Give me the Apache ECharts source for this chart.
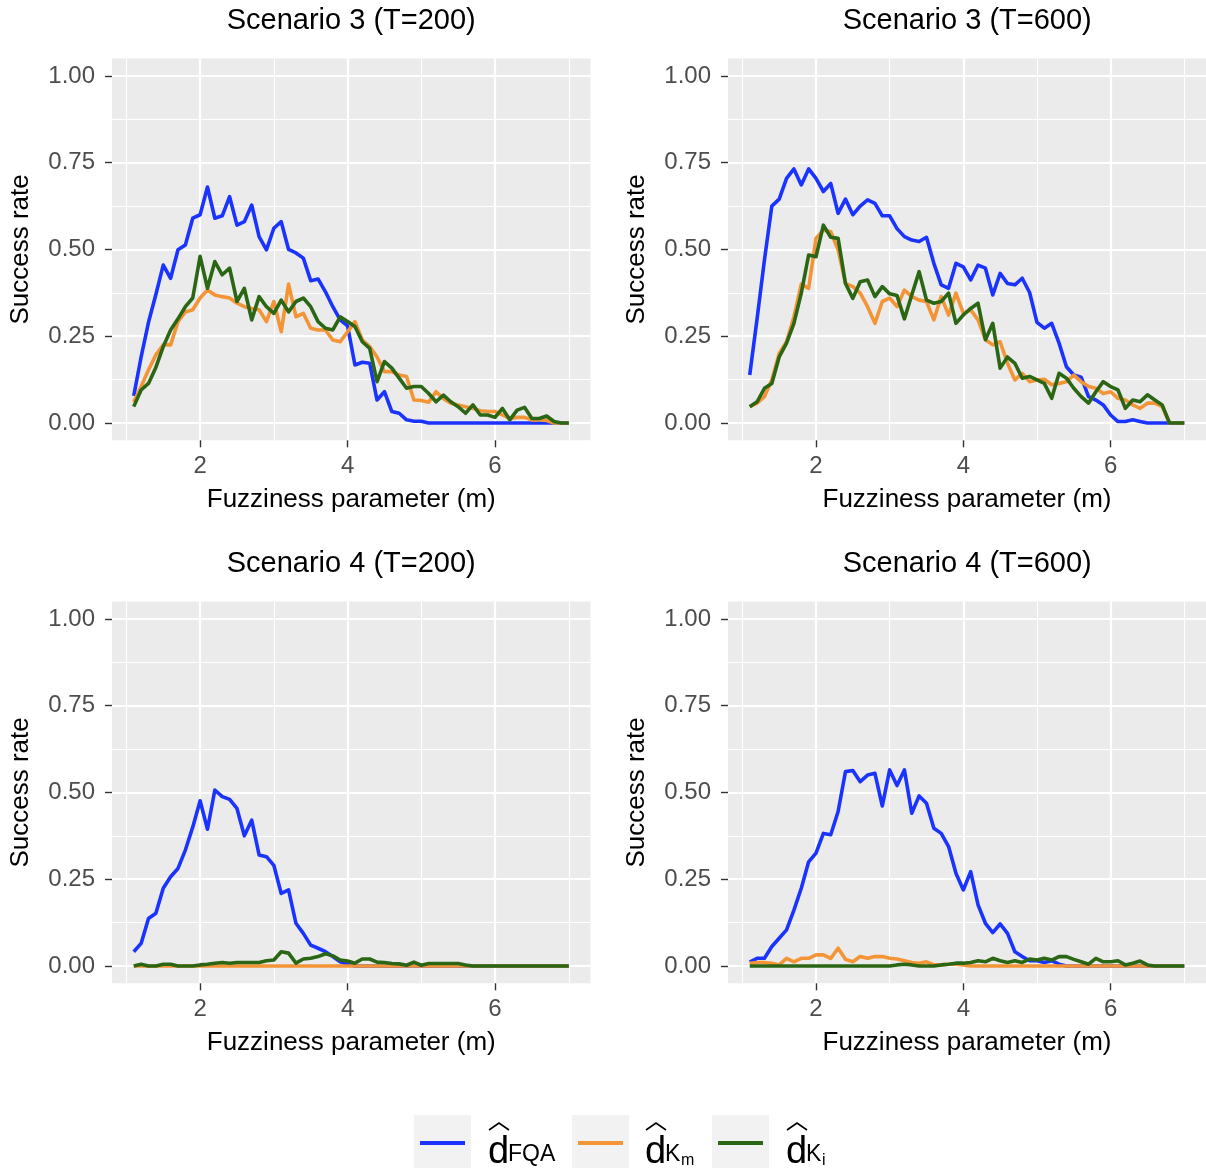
<!DOCTYPE html>
<html>
<head>
<meta charset="utf-8">
<script src="https://cdn.jsdelivr.net/npm/echarts@6/dist/echarts.min.js"></script>
<style>
  html, body { margin: 0; padding: 0; background: #fff; }
  #chart { width: 1206px; height: 1168px; }
</style>
</head>
<body>
<div id="chart"></div>
<script>
// fuzziness parameter m (x values)
const mValues = [1.1, 1.2, 1.3, 1.4, 1.5, 1.6, 1.7, 1.8, 1.9, 2.0,
  2.1, 2.2, 2.3, 2.4, 2.5, 2.6, 2.7, 2.8, 2.9, 3.0,
  3.1, 3.2, 3.3, 3.4, 3.5, 3.6, 3.7, 3.8, 3.9, 4.0,
  4.1, 4.2, 4.3, 4.4, 4.5, 4.6, 4.7, 4.8, 4.9, 5.0,
  5.1, 5.2, 5.3, 5.4, 5.5, 5.6, 5.7, 5.8, 5.9, 6.0,
  6.1, 6.2, 6.3, 6.4, 6.5, 6.6, 6.7, 6.8, 6.9, 7.0];

const xTicks = [2, 4, 6];
const xMinor = [1, 3, 5, 7];
const yTicks = [0, 0.25, 0.5, 0.75, 1];
const yMinor = [0.125, 0.375, 0.625, 0.875];

const panelTitles = ['Scenario 3 (T=200)', 'Scenario 3 (T=600)', 'Scenario 4 (T=200)', 'Scenario 4 (T=600)'];

// Scenario 3, T=200
const s3t200Fqa = [0.078, 0.19, 0.29, 0.37, 0.455, 0.417, 0.499, 0.513, 0.59, 0.60,
  0.68, 0.59, 0.597, 0.652, 0.57, 0.58, 0.628, 0.537, 0.499, 0.561,
  0.58, 0.50, 0.49, 0.475, 0.41, 0.415, 0.378, 0.335, 0.297, 0.28,
  0.167, 0.175, 0.172, 0.066, 0.09, 0.033, 0.028, 0.009, 0.005, 0.005,
  0, 0, 0, 0, 0, 0, 0, 0, 0, 0,
  0, 0, 0, 0, 0, 0, 0, 0, 0, 0];
const s3t200Km = [0.06, 0.105, 0.153, 0.196, 0.225, 0.225, 0.292, 0.32, 0.326, 0.36,
  0.383, 0.369, 0.364, 0.36, 0.345, 0.335, 0.33, 0.326, 0.292, 0.35,
  0.263, 0.40, 0.306, 0.316, 0.273, 0.268, 0.268, 0.239, 0.234, 0.263,
  0.292, 0.239, 0.22, 0.19, 0.148, 0.148, 0.138, 0.134, 0.066, 0.065,
  0.06, 0.09, 0.07, 0.057, 0.052, 0.047, 0.042, 0.035, 0.033, 0.033,
  0.023, 0.013, 0.016, 0.016, 0.009, 0.009, 0.007, 0, 0, 0];
const s3t200Ki = [0.047, 0.095, 0.114, 0.16, 0.22, 0.268, 0.30, 0.335, 0.36, 0.48,
  0.388, 0.465, 0.427, 0.446, 0.35, 0.388, 0.297, 0.364, 0.335, 0.316,
  0.354, 0.32, 0.35, 0.36, 0.335, 0.292, 0.273, 0.268, 0.306, 0.292,
  0.278, 0.234, 0.215, 0.119, 0.177, 0.158, 0.129, 0.10, 0.105, 0.105,
  0.085, 0.061, 0.08, 0.061, 0.047, 0.028, 0.052, 0.023, 0.023, 0.016,
  0.042, 0.009, 0.037, 0.045, 0.013, 0.013, 0.02, 0.004, 0, 0];

// Scenario 3, T=600
const s3t600Fqa = [0.138, 0.30, 0.47, 0.625, 0.645, 0.705, 0.732, 0.686, 0.732, 0.705,
  0.667, 0.69, 0.604, 0.645, 0.60, 0.625, 0.643, 0.633, 0.597, 0.597,
  0.56, 0.537, 0.527, 0.523, 0.535, 0.46, 0.398, 0.388, 0.46, 0.45,
  0.412, 0.455, 0.446, 0.369, 0.431, 0.402, 0.398, 0.417, 0.376, 0.29,
  0.273, 0.287, 0.23, 0.162, 0.138, 0.132, 0.076, 0.066, 0.052, 0.023,
  0.004, 0.004, 0.009, 0.004, 0, 0, 0, 0, 0, 0];
const s3t600Km = [0.047, 0.057, 0.076, 0.124, 0.20, 0.234, 0.306, 0.40, 0.388, 0.532,
  0.556, 0.551, 0.499, 0.402, 0.393, 0.374, 0.335, 0.287, 0.35, 0.36,
  0.335, 0.383, 0.364, 0.354, 0.35, 0.297, 0.364, 0.311, 0.374, 0.316,
  0.326, 0.297, 0.24, 0.225, 0.234, 0.172, 0.124, 0.143, 0.119, 0.124,
  0.126, 0.11, 0.114, 0.119, 0.138, 0.119, 0.105, 0.10, 0.085, 0.09,
  0.071, 0.066, 0.052, 0.042, 0.057, 0.057, 0.047, 0, 0, 0];
const s3t600Ki = [0.047, 0.061, 0.10, 0.114, 0.19, 0.23, 0.287, 0.374, 0.484, 0.479,
  0.57, 0.535, 0.532, 0.402, 0.359, 0.407, 0.412, 0.364, 0.393, 0.372,
  0.367, 0.30, 0.369, 0.436, 0.354, 0.345, 0.35, 0.374, 0.287, 0.311,
  0.33, 0.345, 0.24, 0.287, 0.158, 0.19, 0.172, 0.129, 0.134, 0.124,
  0.114, 0.071, 0.143, 0.129, 0.10, 0.076, 0.057, 0.09, 0.119, 0.105,
  0.095, 0.042, 0.066, 0.061, 0.081, 0.066, 0.052, 0, 0, 0];

// Scenario 4, T=200
const s4t200Fqa = [0.041, 0.065, 0.137, 0.152, 0.224, 0.257, 0.281, 0.334, 0.40, 0.476,
  0.394, 0.507, 0.488, 0.48, 0.454, 0.375, 0.42, 0.32, 0.315, 0.29,
  0.209, 0.219, 0.123, 0.094, 0.06, 0.051, 0.041, 0.027, 0.012, 0.005,
  0, 0, 0, 0, 0, 0, 0, 0, 0, 0,
  0, 0, 0, 0, 0, 0, 0, 0, 0, 0,
  0, 0, 0, 0, 0, 0, 0, 0, 0, 0];
const s4t200Km = [0, 0, 0, 0, 0, 0, 0, 0, 0, 0,
  0, 0, 0, 0, 0, 0, 0, 0, 0, 0,
  0, 0, 0, 0, 0, 0, 0, 0, 0, 0,
  0, 0, 0, 0, 0, 0, 0, 0, 0, 0,
  0, 0, 0, 0, 0, 0, 0, 0, 0, 0,
  0, 0, 0, 0, 0, 0, 0, 0, 0, 0];
const s4t200Ki = [0, 0.005, 0, 0, 0.005, 0.005, 0, 0, 0, 0.003,
  0.005, 0.008, 0.01, 0.008, 0.01, 0.01, 0.01, 0.01, 0.015, 0.017,
  0.041, 0.037, 0.008, 0.02, 0.022, 0.027, 0.035, 0.029, 0.017, 0.014,
  0.008, 0.02, 0.02, 0.011, 0.01, 0.007, 0.006, 0.002, 0.011, 0.002,
  0.007, 0.007, 0.007, 0.007, 0.007, 0.003, 0, 0, 0, 0,
  0, 0, 0, 0, 0, 0, 0, 0, 0, 0];

// Scenario 4, T=600
const s4t600Fqa = [0.011, 0.022, 0.022, 0.056, 0.08, 0.104, 0.161, 0.224, 0.30, 0.325,
  0.382, 0.378, 0.445, 0.56, 0.563, 0.531, 0.55, 0.555, 0.461, 0.565,
  0.52, 0.565, 0.44, 0.49, 0.469, 0.397, 0.382, 0.344, 0.267, 0.219,
  0.272, 0.176, 0.123, 0.096, 0.121, 0.094, 0.041, 0.027, 0.015, 0.015,
  0.01, 0.015, 0.005, 0, 0, 0, 0, 0, 0, 0,
  0, 0, 0, 0, 0, 0, 0, 0, 0, 0];
const s4t600Km = [0.008, 0.01, 0.01, 0.008, 0.003, 0.022, 0.012, 0.022, 0.022, 0.032,
  0.032, 0.022, 0.051, 0.019, 0.012, 0.027, 0.022, 0.027, 0.027, 0.022,
  0.02, 0.015, 0.01, 0.008, 0.012, 0.003, 0.003, 0.005, 0.005, 0.003,
  0, 0, 0, 0, 0, 0, 0, 0, 0, 0,
  0, 0, 0, 0, 0, 0, 0, 0, 0, 0,
  0, 0, 0, 0, 0, 0, 0, 0, 0, 0];
const s4t600Ki = [0, 0, 0, 0, 0, 0, 0, 0, 0, 0,
  0, 0, 0, 0, 0, 0, 0, 0, 0, 0,
  0.003, 0.005, 0.003, 0, 0, 0, 0.003, 0.005, 0.008, 0.008,
  0.01, 0.015, 0.012, 0.022, 0.015, 0.01, 0.015, 0.01, 0.02, 0.017,
  0.022, 0.017, 0.027, 0.027, 0.019, 0.012, 0.005, 0.022, 0.012, 0.012,
  0.015, 0.003, 0.008, 0.014, 0.003, 0, 0, 0, 0, 0];

const panelData = [
  [s3t200Fqa, s3t200Km, s3t200Ki],
  [s3t600Fqa, s3t600Km, s3t600Ki],
  [s4t200Fqa, s4t200Km, s4t200Ki],
  [s4t600Fqa, s4t600Km, s4t600Ki]
];
const seriesNames = ['FQA', 'Km', 'Ki'];
const seriesColors = ['#1a33ff', '#f39536', '#2a6614'];

const FONT = '"Liberation Sans", Arial, Helvetica, sans-serif';
const panelPos = [[112, 58.6], [728, 58.6], [112, 601.6], [728, 601.6]];
const panelW = 478.5, panelH = 381.7;

const grids = [], xAxes = [], yAxes = [], series = [], graphics = [];

panelPos.forEach((p, g) => {
  grids.push({
    left: p[0], top: p[1], width: panelW, height: panelH,
    show: true, backgroundColor: '#ebebeb', borderWidth: 0
  });
  xAxes.push({
    type: 'value', gridIndex: g, min: 0.805, max: 7.295, position: 'bottom',
    axisLine: { show: false, onZero: false },
    axisTick: { show: true, customValues: xTicks, length: 7, lineStyle: { color: '#333', width: 1.4 } },
    axisLabel: { customValues: xTicks, color: '#4d4d4d', fontSize: 24, margin: 14, fontFamily: FONT },
    splitLine: { show: true, lineStyle: { color: '#fff', width: 2.2 } },
    name: 'Fuzziness parameter (m)', nameLocation: 'middle', nameGap: 47,
    nameTextStyle: { color: '#000', fontSize: 26, fontFamily: FONT }
  });
  yAxes.push({
    type: 'value', gridIndex: g, min: -0.05, max: 1.05, position: 'left',
    axisLine: { show: false, onZero: false },
    axisTick: { show: true, customValues: yTicks, length: 7, lineStyle: { color: '#333', width: 1.4 } },
    axisLabel: { customValues: yTicks, color: '#4d4d4d', fontSize: 24, margin: 17, fontFamily: FONT,
      formatter: v => v.toFixed(2) },
    splitLine: { show: true, lineStyle: { color: '#fff', width: 2.2 } },
    name: 'Success rate', nameLocation: 'middle', nameGap: 78, nameRotate: 90,
    nameTextStyle: { color: '#000', fontSize: 26, fontFamily: FONT }
  });
  graphics.push({
    type: 'text', x: p[0] + panelW / 2, y: p[1] - 38,
    style: { text: panelTitles[g], fill: '#000', font: '29px ' + FONT, align: 'center', verticalAlign: 'middle' }
  });
});

// minor grid lines (extra hidden axes)
panelPos.forEach((p, g) => {
  xAxes.push({
    type: 'value', gridIndex: g, min: 0.805, max: 7.295, position: 'bottom',
    axisLine: { show: false, onZero: false }, axisLabel: { show: false },
    axisTick: { show: false, customValues: xMinor },
    splitLine: { show: true, lineStyle: { color: '#fff', width: 1 } }
  });
  yAxes.push({
    type: 'value', gridIndex: g, min: -0.05, max: 1.05, position: 'left',
    axisLine: { show: false, onZero: false }, axisLabel: { show: false },
    axisTick: { show: false, customValues: yMinor },
    splitLine: { show: true, lineStyle: { color: '#fff', width: 1 } }
  });
});

panelData.forEach((arrs, g) => {
  arrs.forEach((vals, k) => {
    series.push({
      name: seriesNames[k], type: 'line', xAxisIndex: g, yAxisIndex: g,
      showSymbol: false, symbol: 'none', animation: false,
      lineStyle: { color: seriesColors[k], width: 3.6, join: 'round' },
      itemStyle: { color: seriesColors[k] },
      data: mValues.map((m, i) => [m, vals[i]])
    });
  });
});

// legend (drawn by hand for the hat / subscript labels)
const legendKeys = [
  { box: 414, d: 488, sub: 'FQA', sub2: '' },
  { box: 572, d: 645, sub: 'K', sub2: 'm' },
  { box: 712, d: 786, sub: 'K', sub2: 'i' }
];
legendKeys.forEach((lk, k) => {
  graphics.push({ type: 'rect', shape: { x: lk.box, y: 1115, width: 57, height: 57 }, style: { fill: '#f2f2f2' } });
  graphics.push({ type: 'line', shape: { x1: lk.box + 6, y1: 1143, x2: lk.box + 51, y2: 1143 },
    style: { stroke: seriesColors[k], lineWidth: 4 } });
  graphics.push({ type: 'text', x: lk.d, y: 1153,
    style: { text: 'd', fill: '#000', font: '38px ' + FONT, verticalAlign: 'middle' } });
  graphics.push({ type: 'polyline', shape: { points: [[lk.d + 1, 1130], [lk.d + 11, 1123], [lk.d + 21, 1130]] },
    style: { stroke: '#000', lineWidth: 1.6, fill: null } });
  graphics.push({ type: 'text', x: lk.d + 20, y: 1155,
    style: { text: lk.sub, fill: '#000', font: '23px ' + FONT, verticalAlign: 'middle' } });
  if (lk.sub2) {
    graphics.push({ type: 'text', x: lk.d + 36, y: 1161,
      style: { text: lk.sub2, fill: '#000', font: '16px ' + FONT, verticalAlign: 'middle' } });
  }
});

const chart = echarts.init(document.getElementById('chart'), null, { renderer: 'canvas' });
chart.setOption({
  backgroundColor: '#fff',
  animation: false,
  textStyle: { fontFamily: FONT },
  grid: grids,
  xAxis: xAxes,
  yAxis: yAxes,
  series: series,
  graphic: graphics
});
</script>
</body>
</html>
